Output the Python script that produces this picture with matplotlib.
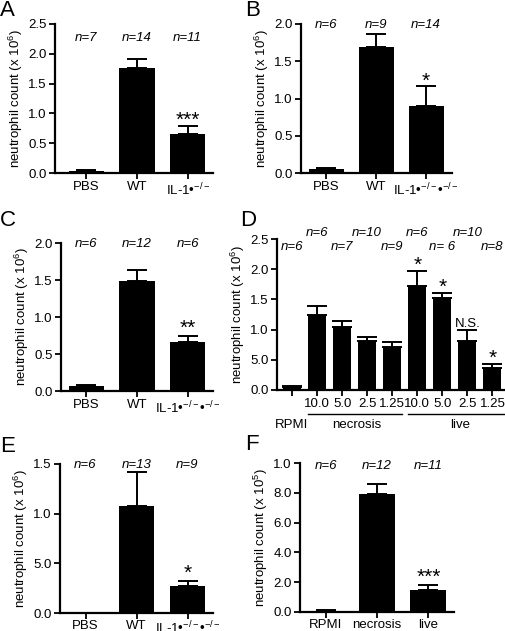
import matplotlib
matplotlib.use("Agg")
import matplotlib.pyplot as plt

plt.rcParams["font.family"] = ["Liberation Sans", "DejaVu Sans"]
plt.rcParams["mathtext.fontset"] = "custom"
plt.rcParams["mathtext.rm"] = "Liberation Sans"
plt.rcParams["mathtext.it"] = "Liberation Sans:italic"

W, H = 505, 631
FS = 9.5

# ---------------------------------------------------------------------------
# data
# ---------------------------------------------------------------------------
a_labels = ["PBS", "WT", r"IL-1•$^{-/-}$"]
a_means = [0.04, 1.76, 0.66]
a_errs = [0.01, 0.15, 0.13]
a_n = ["n=7", "n=14", "n=11"]

b_labels = ["PBS", "WT", r"IL-1•$^{-/-}$•$^{-/-}$"]
b_means = [0.06, 1.69, 0.90]
b_errs = [0.01, 0.17, 0.27]
b_n = ["n=6", "n=9", "n=14"]

c_labels = ["PBS", "WT", r"IL-1•$^{-/-}$•$^{-/-}$"]
c_means = [0.07, 1.49, 0.66]
c_errs = [0.01, 0.15, 0.09]
c_n = ["n=6", "n=12", "n=6"]

d_ticklabels = ["", "10.0", "5.0", "2.5", "1.25", "10.0", "5.0", "2.5", "1.25"]
d_means = [0.05, 1.24, 1.05, 0.81, 0.72, 1.72, 1.52, 0.81, 0.36]
d_errs = [0.02, 0.15, 0.10, 0.07, 0.07, 0.25, 0.09, 0.18, 0.07]
d_n_upper = {1: "n=6", 3: "n=10", 5: "n=6", 7: "n=10"}
d_n_lower = {0: "n=6", 2: "n=7", 4: "n=9", 6: "n= 6", 8: "n=8"}
d_marks = {5: "*", 6: "*", 7: "N.S.", 8: "*"}

e_labels = ["PBS", "WT", r"IL-1•$^{-/-}$•$^{-/-}$"]
e_means = [0.003, 1.08, 0.275]
e_errs = [0.0, 0.34, 0.05]
e_n = ["n=6", "n=13", "n=9"]

f_labels = ["RPMI", "necrosis", "live"]
f_means = [0.1, 7.92, 1.50]
f_errs = [0.02, 0.68, 0.28]
f_n = ["n=6", "n=12", "n=11"]

fig = plt.figure(figsize=(W / 100, H / 100), dpi=100)


def px_axes(left, right, top, bottom):
    return fig.add_axes([left / W, 1 - bottom / H, (right - left) / W,
                         (bottom - top) / H])


def style(ax, ymax, yticks, yticklabels, ylabel):
    for s in ("top", "right"):
        ax.spines[s].set_visible(False)
    for s in ("left", "bottom"):
        ax.spines[s].set_linewidth(1.6)
    ax.set_ylim(0, ymax)
    ax.set_yticks(yticks)
    ax.set_yticklabels(yticklabels)
    ax.tick_params(axis="both", length=4, width=1.3, labelsize=FS, pad=2)
    ax.set_ylabel(ylabel, fontsize=FS, labelpad=2)


def bars(ax, means, errs, width=0.7):
    x = list(range(len(means)))
    ax.bar(x, means, width=width, color="black", zorder=2)
    ax.errorbar(x, means, yerr=[[0] * len(errs), errs], fmt="none",
                ecolor="black", elinewidth=1.4, capsize=width * 10,
                capthick=1.4, zorder=1)
    return x


def letter(txt, xpx, ypx):
    fig.text(xpx / W, 1 - ypx / H, txt, fontsize=16, ha="left", va="center")


def ntext(ax, xs, y, labels):
    for x, t in zip(xs, labels):
        ax.text(x, y, t, ha="center", va="center", fontsize=FS,
                style="italic", clip_on=False)


def star(ax, x, y, t, size=15):
    ax.text(x, y, t, ha="center", va="center", fontsize=size, clip_on=False)


ylab6 = r"neutrophil count (x 10$^6$)"

# A
ax = px_axes(55, 213, 24, 173)
x = bars(ax, a_means, a_errs)
ax.set_xlim(-0.62, 2.5)
ax.set_xticks(x)
ax.set_xticklabels(a_labels)
style(ax, 2.5, [0, 0.5, 1.0, 1.5, 2.0, 2.5],
      ["0.0", "0.5", "1.0", "1.5", "2.0", "2.5"], ylab6)
ntext(ax, x, 2.26, a_n)
star(ax, 2, 0.88, "***")
letter("A", 0, 10)

# B
ax = px_axes(301, 452, 24, 173)
x = bars(ax, b_means, b_errs)
ax.set_xlim(-0.5, 2.52)
ax.set_xticks(x)
ax.set_xticklabels(b_labels)
style(ax, 2.0, [0, 0.5, 1.0, 1.5, 2.0],
      ["0.0", "0.5", "1.0", "1.5", "2.0"], ylab6)
ntext(ax, x, 1.98, b_n)
star(ax, 2, 1.23, "*")
letter("B", 245, 10)

# C
ax = px_axes(61, 213, 243, 391)
x = bars(ax, c_means, c_errs)
ax.set_xlim(-0.5, 2.5)
ax.set_xticks(x)
ax.set_xticklabels(c_labels)
style(ax, 2.0, [0, 0.5, 1.0, 1.5, 2.0],
      ["0.0", "0.5", "1.0", "1.5", "2.0"], ylab6)
ntext(ax, x, 1.98, c_n)
star(ax, 2, 0.85, "**")
letter("C", 0, 220)

# D
ax = px_axes(277, 505, 239, 390)
x = bars(ax, d_means, d_errs, width=0.72)
ax.set_xlim(-0.6, 8.5)
ax.set_xticks(x)
ax.set_xticklabels(d_ticklabels)
style(ax, 2.5, [0, 0.5, 1.0, 1.5, 2.0, 2.5],
      ["0.0", "5.0", "1.0", "1.5", "2.0", "2.5"], ylab6)
ntext(ax, list(d_n_upper), 2.6, list(d_n_upper.values()))
ntext(ax, list(d_n_lower), 2.37, list(d_n_lower.values()))
for k, t in d_marks.items():
    if t == "*":
        star(ax, k, d_means[k] + d_errs[k] + 0.09, t)
    else:
        star(ax, k, d_means[k] + d_errs[k] + 0.11, t, size=FS)
# group labels under the concentrations
tr = ax.get_xaxis_transform()
ax.plot([0.64, 4.4], [-0.16, -0.16], color="black", lw=1.0,
        transform=tr, clip_on=False)
ax.plot([4.64, 8.5], [-0.16, -0.16], color="black", lw=1.0,
        transform=tr, clip_on=False)
ax.text(0, -0.23, "RPMI", transform=tr, ha="center", va="center",
        fontsize=FS)
ax.text(2.6, -0.23, "necrosis", transform=tr, ha="center", va="center",
        fontsize=FS)
ax.text(6.7, -0.23, "live", transform=tr, ha="center", va="center",
        fontsize=FS)
letter("D", 240, 220)

# E
ax = px_axes(60, 213, 464, 613)
x = bars(ax, e_means, e_errs)
ax.set_xlim(-0.5, 2.5)
ax.set_xticks(x)
ax.set_xticklabels(e_labels)
style(ax, 1.5, [0, 0.5, 1.0, 1.5],
      ["0.0", "5.0", "1.0", "1.5"], ylab6)
ax.tick_params(axis="x", pad=1)
ntext(ax, x, 1.49, e_n)
star(ax, 2, 0.40, "*")
letter("E", 0, 447)

# F
ax = px_axes(300, 454, 463, 612)
x = bars(ax, f_means, f_errs)
ax.set_xlim(-0.5, 2.5)
ax.set_xticks(x)
ax.set_xticklabels(f_labels)
style(ax, 10.0, [0, 2, 4, 6, 8, 10],
      ["0.0", "2.0", "4.0", "6.0", "8.0", "1.0"],
      r"neutrophil count (x 10$^5$)")
ax.tick_params(axis="x", pad=1)
ntext(ax, x, 9.8, f_n)
star(ax, 2, 2.3, "***")
letter("F", 245, 444)

fig.savefig("out.png", dpi=100)
